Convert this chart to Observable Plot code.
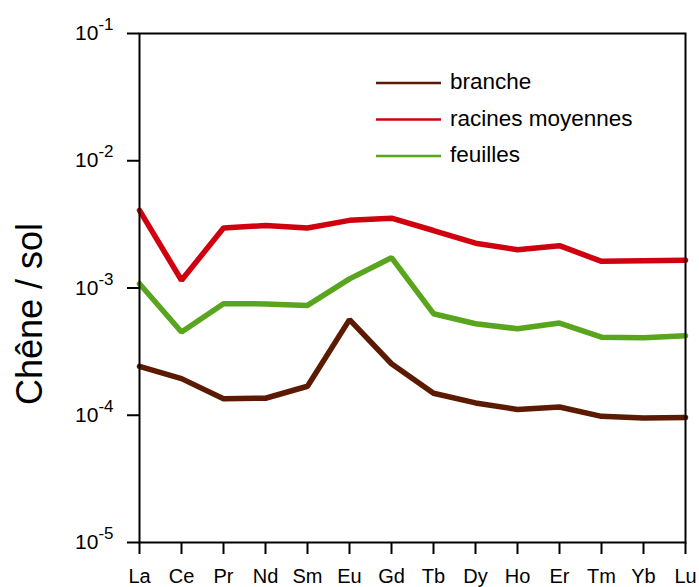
<!DOCTYPE html>
<html>
<head>
<meta charset="utf-8">
<script src="https://cdn.jsdelivr.net/npm/d3@7"></script>
<script src="https://cdn.jsdelivr.net/npm/@observablehq/plot@0.6"></script>
<style>
  html, body { margin: 0; padding: 0; background: #fff; }
  #chart svg { display: block; }
</style>
</head>
<body>
<div id="chart"></div>
<script>
const elements = ["La","Ce","Pr","Nd","Sm","Eu","Gd","Tb","Dy","Ho","Er","Tm","Yb","Lu"];
const branche  = [2.42e-4,1.94e-4,1.35e-4,1.36e-4,1.69e-4,5.64e-4,2.54e-4,1.49e-4,1.25e-4,1.11e-4,1.16e-4,9.8e-5,9.5e-5,9.6e-5];
const racines  = [4.07e-3,1.15e-3,2.96e-3,3.10e-3,2.96e-3,3.40e-3,3.54e-3,2.83e-3,2.25e-3,2.00e-3,2.15e-3,1.62e-3,1.64e-3,1.65e-3];
const feuilles = [1.08e-3,4.51e-4,7.53e-4,7.50e-4,7.30e-4,1.18e-3,1.73e-3,6.28e-4,5.24e-4,4.78e-4,5.30e-4,4.11e-4,4.07e-4,4.22e-4];
const seriesNames = ["branche","racines moyennes","feuilles"];
const seriesColors = ["#5c1a02","#d0000f","#5aa51e"];
const yTicks = [1e-5,1e-4,1e-3,1e-2,1e-1];
const yTitle = "Chêne / sol";

const seriesValues = [branche, racines, feuilles];
const rows = [];
seriesNames.forEach((s, i) => elements.forEach((e, j) => rows.push({serie: s, el: e, v: seriesValues[i][j]})));

const font = "'Liberation Sans', Arial, sans-serif";

const plot = Plot.plot({
  width: 699,
  height: 587,
  marginLeft: 139,
  marginRight: 14,
  marginTop: 33,
  marginBottom: 45,
  style: {fontFamily: font, background: "#fff", color: "#000"},
  x: {type: "point", domain: elements, padding: 0},
  y: {type: "log", domain: [1e-5, 1e-1]},
  color: {domain: seriesNames, range: seriesColors},
  marks: [
    Plot.axisX({tickSize: 12, tickPadding: 14, fontSize: 20, label: null, stroke: "#000", strokeWidth: 2}),
    Plot.axisY({ticks: yTicks, tickSize: 12, tickPadding: 14, fontSize: 21, label: null,
      tickFormat: d => "10|" + Math.round(Math.log10(d)), stroke: "#000", strokeWidth: 2}),
    Plot.line(rows, {x: "el", y: "v", z: "serie", stroke: "serie", strokeWidth: 5.5, strokeLinejoin: "miter"}),
    Plot.frame({stroke: "#000", strokeWidth: 2})
  ]
});

const svg = d3.select(plot);
svg.selectAll('g[aria-label="x-axis tick label"]').attr("font-size", 20);
svg.selectAll('g[aria-label="x-axis tick label"] text').attr("font-size", 20).style("font-size", "20px");
svg.selectAll('g[aria-label="y-axis tick label"]').attr("font-size", 21);
// superscript exponents on y tick labels
svg.selectAll('g[aria-label="y-axis tick label"] text').each(function() {
  const t = d3.select(this);
  const parts = t.text().split("|");
  t.text(parts[0]).attr("font-size", 21).style("font-size", "21px");
  t.append("tspan").attr("dy", -10).attr("font-size", 17).style("font-size", "17px").text(parts[1]);
});

// y title
svg.append("text")
  .attr("transform", "translate(42,314) rotate(-90)")
  .attr("text-anchor", "middle")
  .attr("font-family", font)
  .style("font-size", "36px")
  .attr("fill", "#000")
  .text(yTitle);

// legend
const lg = svg.append("g").attr("font-family", font).attr("text-anchor", "start");
seriesNames.forEach((s, i) => {
  const y = 83 + i * 36.5;
  lg.append("line").attr("x1", 376).attr("x2", 441).attr("y1", y).attr("y2", y)
    .attr("stroke", seriesColors[i]).attr("stroke-width", 2.5);
  lg.append("text").attr("x", 450).attr("y", y + 6).attr("fill", "#000")
    .attr("text-anchor", "start").style("font-size", "22.5px").text(s);
});

document.getElementById("chart").appendChild(plot);
</script>
</body>
</html>
